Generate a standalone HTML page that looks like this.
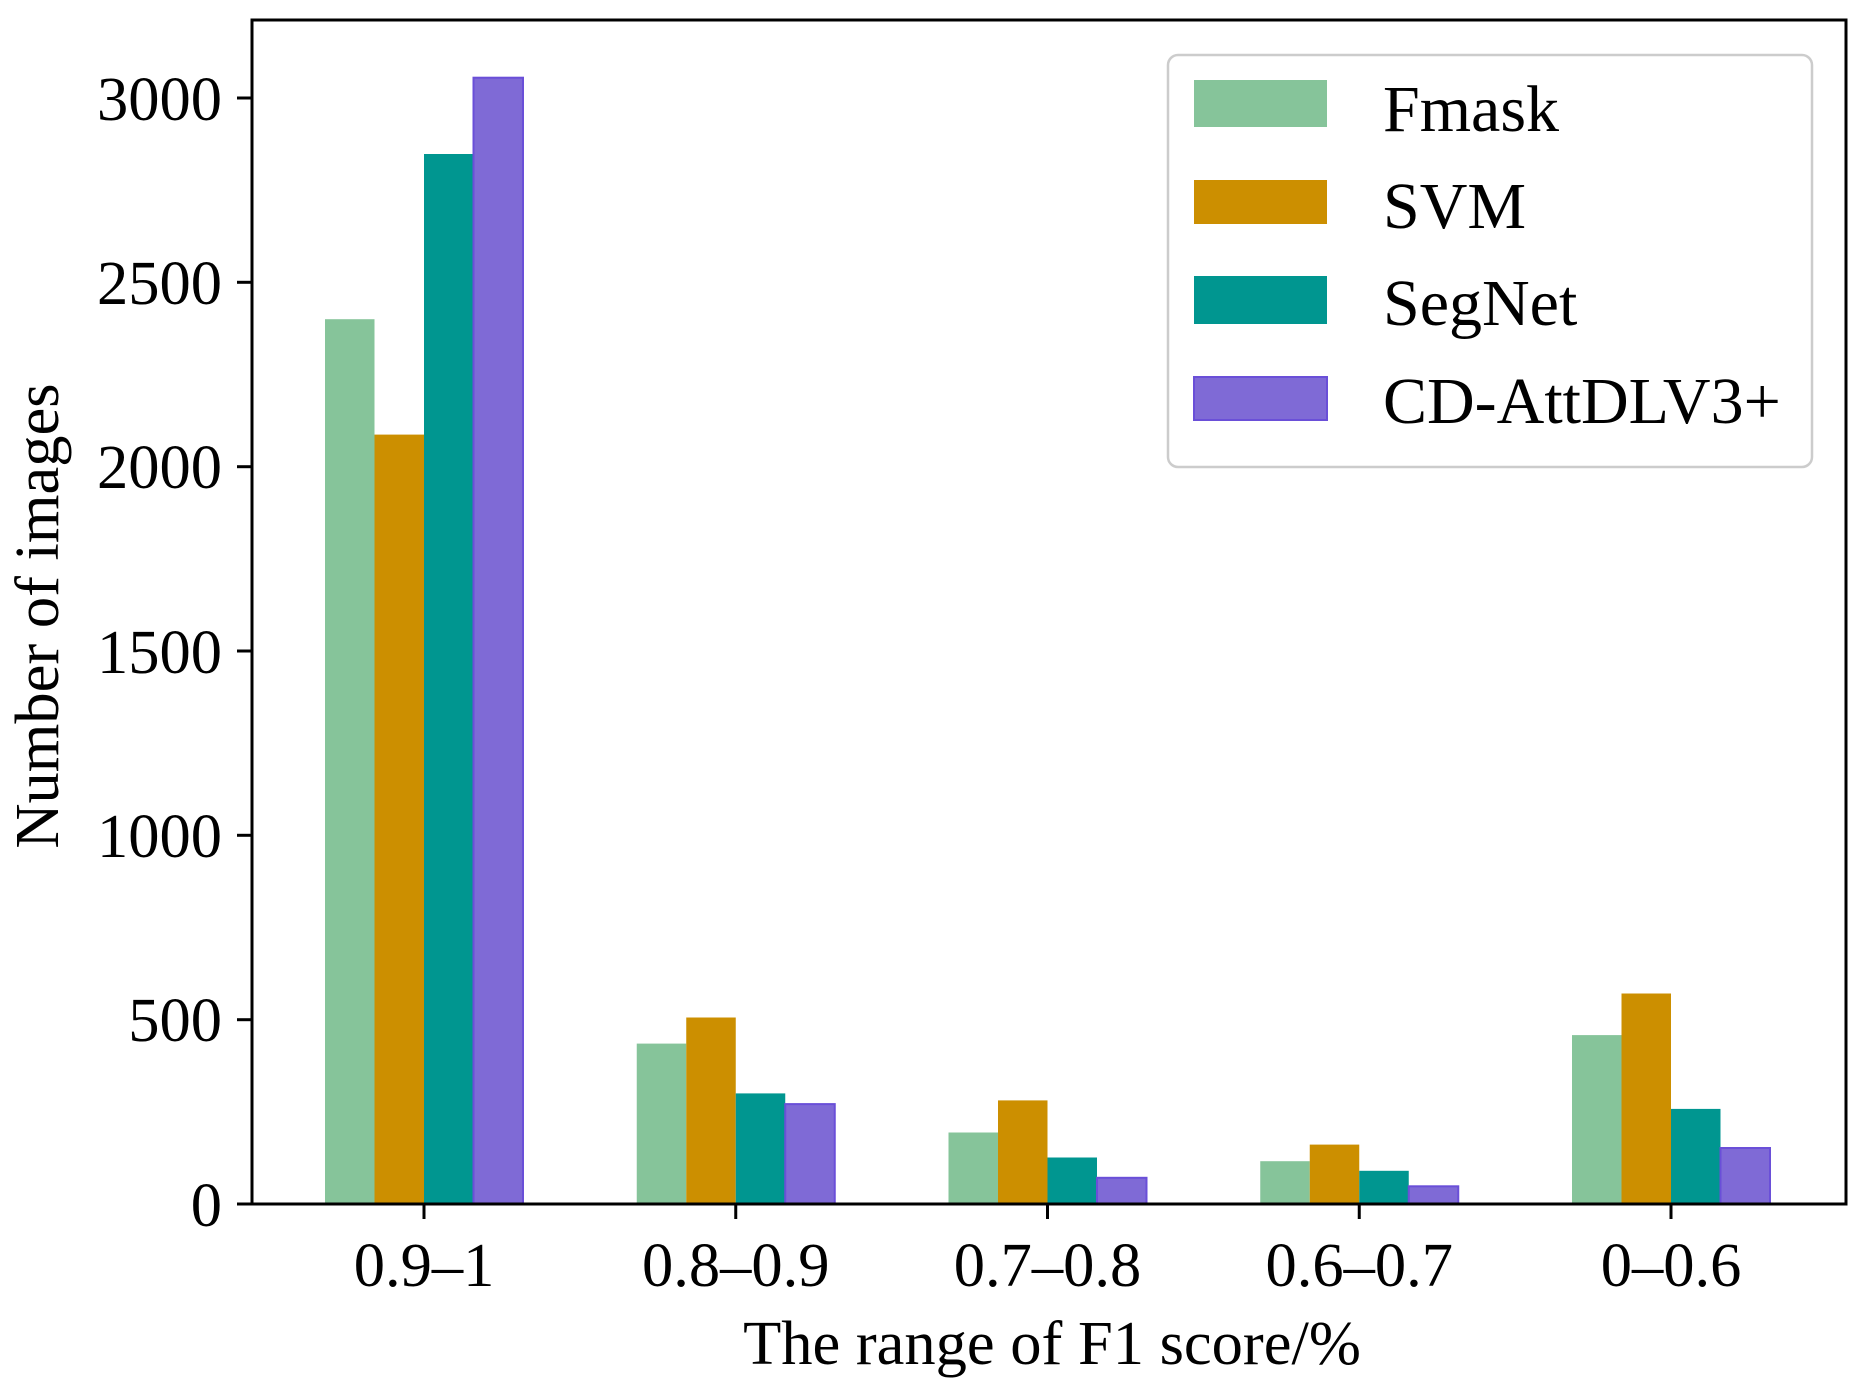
<!DOCTYPE html>
<html><head><meta charset="utf-8"><style>
html,body{margin:0;padding:0;background:#fff;}
svg{display:block;}
text{font-family:"Liberation Serif",serif;fill:#000;}
</style></head><body>
<svg width="1866" height="1381" viewBox="0 0 1866 1381" xmlns="http://www.w3.org/2000/svg">
<g>
<rect x="325" y="319.2" width="49.5" height="884.8" fill="#86c49a"/>
<rect x="374.5" y="434.6" width="49.5" height="769.4" fill="#cc8f00"/>
<rect x="424" y="154" width="49.5" height="1050" fill="#009690"/>
<rect x="473.5" y="77.7" width="49.5" height="1126.3" fill="#7f6ad6" stroke="#6a4fd8" stroke-width="2"/>
<rect x="636.75" y="1043.6" width="49.5" height="160.4" fill="#86c49a"/>
<rect x="686.25" y="1017.5" width="49.5" height="186.5" fill="#cc8f00"/>
<rect x="735.75" y="1093.4" width="49.5" height="110.6" fill="#009690"/>
<rect x="785.25" y="1104.1" width="49.5" height="99.9" fill="#7f6ad6" stroke="#6a4fd8" stroke-width="2"/>
<rect x="948.5" y="1132.5" width="49.5" height="71.5" fill="#86c49a"/>
<rect x="998" y="1100.4" width="49.5" height="103.6" fill="#cc8f00"/>
<rect x="1047.5" y="1157.5" width="49.5" height="46.5" fill="#009690"/>
<rect x="1097" y="1177.8" width="49.5" height="26.2" fill="#7f6ad6" stroke="#6a4fd8" stroke-width="2"/>
<rect x="1260.25" y="1161.2" width="49.5" height="42.8" fill="#86c49a"/>
<rect x="1309.75" y="1144.6" width="49.5" height="59.4" fill="#cc8f00"/>
<rect x="1359.25" y="1170.8" width="49.5" height="33.2" fill="#009690"/>
<rect x="1408.75" y="1186.3" width="49.5" height="17.7" fill="#7f6ad6" stroke="#6a4fd8" stroke-width="2"/>
<rect x="1572" y="1035.1" width="49.5" height="168.9" fill="#86c49a"/>
<rect x="1621.5" y="993.5" width="49.5" height="210.5" fill="#cc8f00"/>
<rect x="1671" y="1108.9" width="49.5" height="95.1" fill="#009690"/>
<rect x="1720.5" y="1148" width="49.5" height="56" fill="#7f6ad6" stroke="#6a4fd8" stroke-width="2"/>
</g>
<g stroke="#000" stroke-width="3">
<line x1="237" y1="1204" x2="252" y2="1204"/>
<line x1="237" y1="1019.7" x2="252" y2="1019.7"/>
<line x1="237" y1="835.3" x2="252" y2="835.3"/>
<line x1="237" y1="651" x2="252" y2="651"/>
<line x1="237" y1="466.7" x2="252" y2="466.7"/>
<line x1="237" y1="282.3" x2="252" y2="282.3"/>
<line x1="237" y1="98" x2="252" y2="98"/>
<line x1="424" y1="1204" x2="424" y2="1219"/>
<line x1="735.75" y1="1204" x2="735.75" y2="1219"/>
<line x1="1047.5" y1="1204" x2="1047.5" y2="1219"/>
<line x1="1359.25" y1="1204" x2="1359.25" y2="1219"/>
<line x1="1671" y1="1204" x2="1671" y2="1219"/>
</g>
<g font-size="62.5" text-anchor="end">
<text x="222" y="1226">0</text>
<text x="222" y="1041">500</text>
<text x="222" y="857">1000</text>
<text x="222" y="673">1500</text>
<text x="222" y="488">2000</text>
<text x="222" y="304">2500</text>
<text x="222" y="120">3000</text>
</g>
<g font-size="62.5" text-anchor="middle">
<text x="424" y="1286">0.9–1</text>
<text x="735.75" y="1286">0.8–0.9</text>
<text x="1047.5" y="1286">0.7–0.8</text>
<text x="1359.25" y="1286">0.6–0.7</text>
<text x="1671" y="1286">0–0.6</text>
<text x="1052" y="1364">The range of F1 score/%</text>
<text transform="translate(58,616) rotate(-90)">Number of images</text>
</g>
<rect x="252" y="20" width="1594" height="1184" fill="none" stroke="#000" stroke-width="3"/>
<rect x="1168" y="55" width="644" height="412" rx="10" fill="#fff" stroke="#ccc" stroke-width="2.5"/>
<rect x="1194" y="80" width="133" height="47" fill="#86c49a"/>
<rect x="1194" y="180" width="133" height="44" fill="#cc8f00"/>
<rect x="1194" y="276" width="133" height="48" fill="#009690"/>
<rect x="1194" y="377" width="133" height="43" fill="#7f6ad6" stroke="#6a4fd8" stroke-width="2"/>
<g font-size="66">
<text x="1383" y="131">Fmask</text>
<text x="1383" y="228">SVM</text>
<text x="1383" y="325">SegNet</text>
<text x="1383" y="423">CD-AttDLV3+</text>
</g>
</svg>
</body></html>
